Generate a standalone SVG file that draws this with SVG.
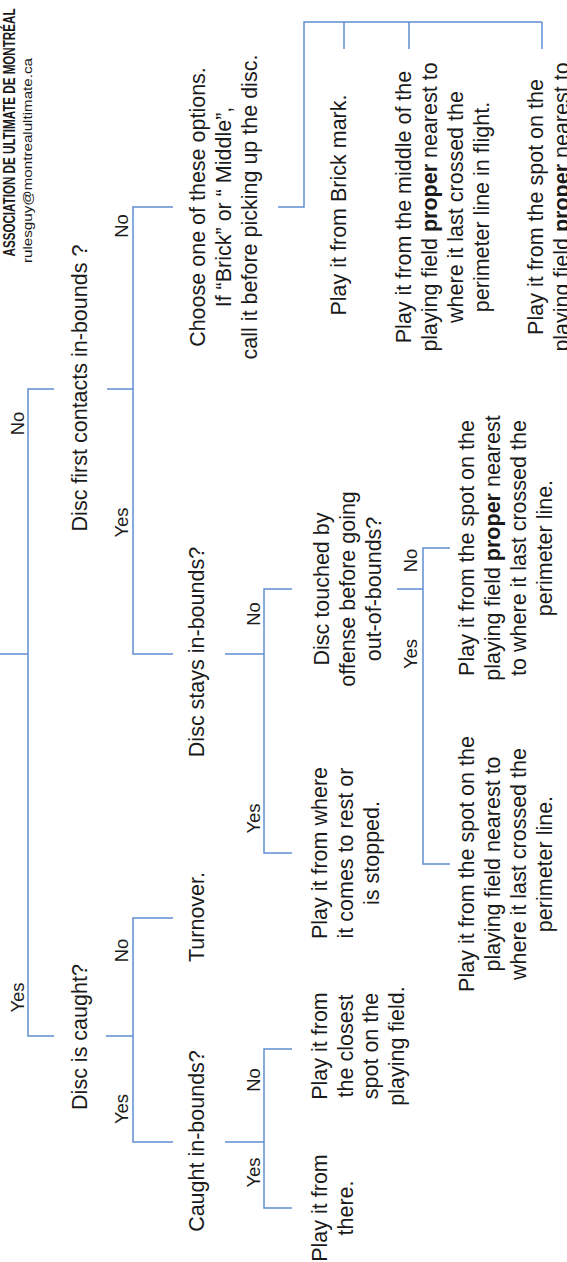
<svg xmlns="http://www.w3.org/2000/svg" width="567" height="1262" viewBox="0 0 567 1262">
<style>
.t{font-family:"Liberation Sans",Arial,sans-serif;font-size:21.5px;fill:#1a1a1a;text-anchor:middle}
.l{font-family:"Liberation Sans",Arial,sans-serif;font-size:18.5px;fill:#1a1a1a;text-anchor:middle}
.b{font-weight:bold}
.c{fill:none;stroke:#5f8dd3;stroke-width:1.5}
</style>
<rect width="567" height="1262" fill="#fff"/>
<g transform="matrix(0,-1,1,0,0,1262)">
<g id="header">
<text x="1129.5" y="15" font-family="Liberation Sans, Arial, sans-serif" font-size="16" font-weight="bold" fill="#1a1a1a" text-anchor="middle" textLength="248" lengthAdjust="spacingAndGlyphs">ASSOCIATION DE ULTIMATE DE MONTRÉAL</text>
<text x="1101.5" y="32" font-family="Liberation Sans, Arial, sans-serif" font-size="13" fill="#1a1a1a" text-anchor="middle" textLength="205" lengthAdjust="spacingAndGlyphs">rulesguy@montrealultimate.ca</text>
</g>
<g id="connectors" class="c">
<path d="M608,0V28M226,54V28H873V54"/>
<path d="M226,106V133M120,173V133H344V173"/>
<path d="M873,107V133M608,173V133H1055V173"/>
<path d="M120,225V264M54,292V264H213V292"/>
<path d="M608,225V264M409,292V264H673V292"/>
<path d="M673,397V423M398,450V423H714V450"/>
<path d="M1055,278V304H1240V542M1240,344H1213M1240,409H1213M1240,542H1213"/>
</g>
<g id="labels">
<text class="l" x="264.5" y="24">Yes</text>
<text class="l" x="838.5" y="24">No</text>
<text class="l" x="153" y="128">Yes</text>
<text class="l" x="311.5" y="128">No</text>
<text class="l" x="739.5" y="128">Yes</text>
<text class="l" x="1036" y="128">No</text>
<text class="l" x="89.5" y="260">Yes</text>
<text class="l" x="182" y="260">No</text>
<text class="l" x="443.5" y="260">Yes</text>
<text class="l" x="648" y="260">No</text>
<text class="l" x="608" y="417">Yes</text>
<text class="l" x="701.5" y="417">No</text>
</g>
<g id="q-first-contact"><text class="t" x="874" y="87">Disc first contacts in-bounds ?</text></g>
<g id="q-caught"><text class="t" x="225" y="87">Disc is caught?</text></g>
<g id="q-caught-in"><text class="t" x="121" y="204">Caught in-bounds?</text></g>
<g id="turnover"><text class="t" x="345" y="204">Turnover.</text></g>
<g id="q-stays"><text class="t" x="610" y="204">Disc stays in-bounds?</text></g>
<g id="choose"><text class="t" x="1055" y="205">Choose one of these options.<tspan x="1055" y="231">If “Brick” or “ Middle”,</tspan><tspan x="1055" y="257">call it before picking up the disc.</tspan></text></g>
<g id="leaf-there"><text class="t" x="54" y="327">Play it from<tspan x="54" y="353">there.</tspan></text></g>
<g id="leaf-closest"><text class="t" x="216" y="327">Play it from<tspan x="216" y="352.5">the closest</tspan><tspan x="216" y="378">spot on the</tspan><tspan x="216" y="403.5">playing field.</tspan></text></g>
<g id="leaf-rest"><text class="t" x="409" y="327">Play it from where<tspan x="409" y="353">it comes to rest or</tspan><tspan x="409" y="379">is stopped.</tspan></text></g>
<g id="q-touched"><text class="t" x="673" y="329">Disc touched by<tspan x="673" y="355">offense before going</tspan><tspan x="673" y="381">out-of-bounds?</tspan></text></g>
<g id="leaf-spot-yes"><text class="t" x="398" y="474">Play it from the spot on the<tspan x="398" y="500">playing field nearest to</tspan><tspan x="398" y="526">where it last crossed the</tspan><tspan x="398" y="552">perimeter line.</tspan></text></g>
<g id="leaf-spot-no"><text class="t" x="714" y="474">Play it from the spot on the<tspan x="714" y="500">playing field <tspan class="b">proper</tspan> nearest</tspan><tspan x="714" y="526">to where it last crossed the</tspan><tspan x="714" y="552">perimeter line.</tspan></text></g>
<g id="opt-brick"><text class="t" x="1057" y="345.5">Play it from Brick mark.</text></g>
<g id="opt-middle"><text class="t" x="1055" y="410.5">Play it from the middle of the<tspan x="1055" y="436.5">playing field <tspan class="b">proper</tspan> nearest to</tspan><tspan x="1055" y="462.5">where it last crossed the</tspan><tspan x="1055" y="488.5">perimeter line in flight.</tspan></text></g>
<g id="opt-spot"><text class="t" x="1055" y="542.5">Play it from the spot on the<tspan x="1055" y="568.5">playing field <tspan class="b">proper</tspan> nearest to</tspan></text></g>
</g>
</svg>
